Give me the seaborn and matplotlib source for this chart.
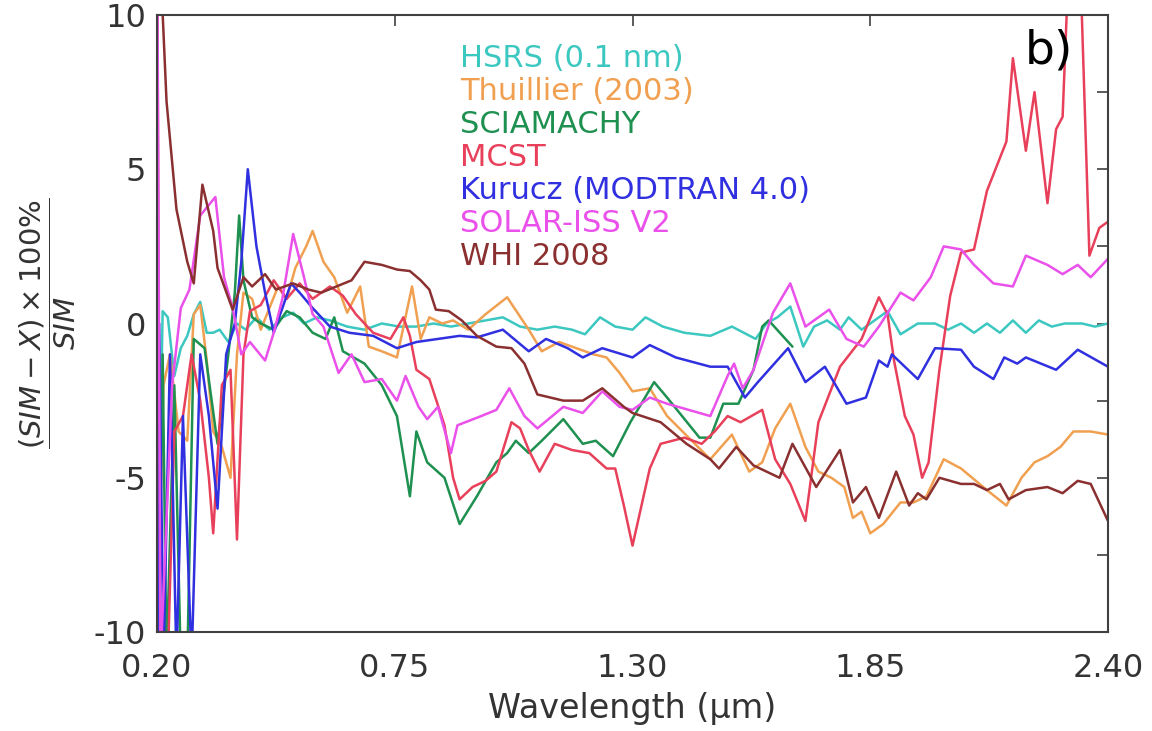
import pandas as pd
import matplotlib
matplotlib.use("Agg")
import matplotlib.pyplot as plt
from matplotlib.ticker import MultipleLocator
import seaborn as sns

# (wavelength in um, relative difference in %)
hsrs = [(0.200, -12), (0.205, -6), (0.213, 0.4), (0.225, 0.2), (0.240, -1.7), (0.255, -0.8),
        (0.270, -0.4), (0.285, 0.3), (0.300, 0.7), (0.315, -0.3), (0.330, -0.3), (0.345, -0.2),
        (0.365, -0.6), (0.385, 0.0), (0.405, -0.2), (0.43, 0.2), (0.46, -0.2), (0.49, 0.2),
        (0.515, 0.35), (0.54, 0.0), (0.57, 0.2), (0.60, 0.1), (0.64, -0.1), (0.68, -0.2),
        (0.72, 0.0), (0.76, -0.1), (0.80, -0.1), (0.84, 0.0), (0.88, -0.1), (0.92, 0.0),
        (0.96, 0.1), (1.00, 0.2), (1.04, -0.1), (1.08, -0.2), (1.12, -0.1), (1.16, -0.2),
        (1.19, -0.35), (1.225, 0.2), (1.26, -0.1), (1.30, -0.2), (1.33, 0.2), (1.37, -0.1),
        (1.42, -0.3), (1.48, -0.4), (1.53, -0.1), (1.585, -0.5), (1.61, 0.0), (1.635, 0.2),
        (1.665, 0.55), (1.695, -0.75), (1.72, -0.1), (1.75, 0.1), (1.78, -0.2), (1.80, 0.2),
        (1.83, -0.2), (1.86, 0.1), (1.89, 0.4), (1.92, -0.35), (1.96, 0.0), (2.00, 0.0),
        (2.03, -0.2), (2.06, 0.0), (2.09, -0.3), (2.12, 0.0), (2.15, -0.3), (2.18, 0.1),
        (2.21, -0.3), (2.24, 0.1), (2.27, -0.1), (2.30, 0.0), (2.34, 0.0), (2.37, -0.1),
        (2.40, 0.0)]

thuillier = [(0.200, -14), (0.205, -8), (0.215, -2), (0.23, -1), (0.25, -3.5), (0.27, -3.8),
             (0.285, 0.3), (0.30, 0.6), (0.315, -1.2), (0.33, -3.5), (0.35, -4), (0.37, -5),
             (0.385, -1), (0.40, 1.0), (0.42, 0.8), (0.44, -0.2), (0.46, 0.5), (0.48, 1.2),
             (0.50, 0.8), (0.52, 1.8), (0.545, 2.5), (0.56, 3.0), (0.585, 2.0), (0.61, 1.5),
             (0.64, 0.35), (0.67, 1.2), (0.69, -0.75), (0.72, -0.9), (0.755, -1.1), (0.79, 1.2),
             (0.81, -0.5), (0.83, 0.2), (0.86, 0.0), (0.885, 0.1), (0.92, -0.2), (0.96, 0.3),
             (1.01, 0.85), (1.06, -0.2), (1.09, -0.9), (1.13, -0.6), (1.17, -0.8), (1.21, -1.0),
             (1.24, -1.1), (1.27, -1.6), (1.30, -2.2), (1.34, -2.1), (1.38, -3.0), (1.43, -3.7),
             (1.48, -4.4), (1.53, -3.6), (1.57, -4.8), (1.60, -4.5), (1.63, -3.4), (1.665, -2.6),
             (1.70, -4.0), (1.73, -4.8), (1.76, -5.0), (1.79, -5.3), (1.81, -6.3), (1.83, -6.1),
             (1.85, -6.8), (1.88, -6.5), (1.92, -5.8), (1.95, -5.8), (1.98, -5.6), (2.02, -4.4),
             (2.06, -4.7), (2.12, -5.4), (2.165, -5.9), (2.20, -5.0), (2.23, -4.5), (2.26, -4.3),
             (2.29, -4.0), (2.32, -3.5), (2.36, -3.5), (2.40, -3.6)]

sciamachy = [(0.200, -14), (0.213, -1), (0.222, -11), (0.240, -2), (0.255, -11), (0.270, -11),
             (0.285, -0.5), (0.31, -0.8), (0.34, -3.9), (0.365, -1.0), (0.38, 1.0), (0.39, 3.5),
             (0.40, 1.4), (0.42, 0.2), (0.44, 0.0), (0.47, -0.2), (0.50, 0.4), (0.53, 0.2),
             (0.56, -0.3), (0.59, -0.5), (0.61, 0.2), (0.63, -0.9), (0.68, -1.3), (0.72, -2.0),
             (0.755, -3.0), (0.785, -5.6), (0.80, -3.5), (0.825, -4.5), (0.865, -5.0), (0.90, -6.5),
             (0.94, -5.6), (0.985, -4.5), (1.01, -4.2), (1.03, -3.8), (1.06, -4.2), (1.09, -3.8),
             (1.14, -3.1), (1.185, -3.9), (1.215, -3.8), (1.255, -4.3), (1.295, -3.2), (1.35, -1.9),
             (1.38, -2.4), (1.455, -3.7), (1.48, -3.7), (1.51, -2.6), (1.545, -2.6), (1.58, -1.5),
             (1.60, -0.1), (1.615, 0.1), (1.67, -0.75)]

mcst = [(0.200, 14), (0.207, -12), (0.225, -11), (0.24, -3.5), (0.26, -3.0), (0.28, -1.0),
        (0.30, -2.5), (0.32, -5.0), (0.33, -6.8), (0.35, -2.0), (0.37, -1.5), (0.385, -7.0),
        (0.40, -1.0), (0.415, 0.4), (0.44, 0.6), (0.47, 1.4), (0.50, 0.8), (0.53, 1.3),
        (0.56, 0.8), (0.60, 1.2), (0.63, 0.9), (0.66, 0.3), (0.70, -0.3), (0.74, -0.5),
        (0.77, 0.2), (0.785, -0.4), (0.80, -1.5), (0.83, -1.8), (0.865, -3.3), (0.885, -5.0),
        (0.90, -5.7), (0.93, -5.3), (0.96, -5.1), (0.985, -4.8), (1.02, -3.2), (1.04, -3.4),
        (1.06, -4.1), (1.085, -4.8), (1.12, -3.9), (1.16, -4.1), (1.20, -4.2), (1.24, -4.7),
        (1.26, -4.7), (1.28, -5.9), (1.30, -7.2), (1.34, -4.7), (1.365, -3.9), (1.42, -3.7),
        (1.46, -3.9), (1.49, -3.5), (1.52, -3.0), (1.55, -3.2), (1.60, -2.8), (1.63, -4.4),
        (1.665, -5.2), (1.70, -6.4), (1.73, -3.2), (1.78, -1.4), (1.83, -0.5), (1.87, 0.85),
        (1.89, 0.3), (1.905, -1.2), (1.93, -3.0), (1.95, -3.6), (1.97, -5.0), (1.985, -4.5),
        (2.01, -1.5), (2.035, 0.9), (2.06, 2.3), (2.09, 2.4), (2.12, 4.3), (2.165, 5.9),
        (2.18, 8.6), (2.21, 5.6), (2.23, 7.5), (2.26, 3.9), (2.28, 6.3), (2.295, 6.7),
        (2.31, 12), (2.335, 12), (2.357, 2.2), (2.38, 3.1), (2.40, 3.3)]

kurucz = [(0.200, -14), (0.205, 0.0), (0.215, -11), (0.23, -1.0), (0.245, -11), (0.26, -3.0),
          (0.28, -11), (0.30, -1.0), (0.32, -3.0), (0.34, -6.0), (0.36, -1.0), (0.38, 0.0),
          (0.395, 2.0), (0.41, 5.0), (0.43, 2.5), (0.45, 1.0), (0.47, -0.3), (0.49, 0.5),
          (0.51, 1.3), (0.53, 1.0), (0.56, 0.5), (0.60, -0.1), (0.645, -0.3), (0.70, -0.4),
          (0.755, -0.8), (0.80, -0.6), (0.85, -0.5), (0.90, -0.4), (0.94, -0.45), (1.00, -0.2),
          (1.06, -0.9), (1.10, -0.5), (1.15, -0.8), (1.185, -1.1), (1.23, -0.8), (1.30, -1.1),
          (1.34, -0.7), (1.40, -1.1), (1.48, -1.4), (1.52, -1.4), (1.56, -2.4), (1.59, -1.9),
          (1.66, -0.8), (1.70, -1.9), (1.745, -1.4), (1.795, -2.6), (1.84, -2.4), (1.87, -1.2),
          (1.89, -1.4), (1.90, -1.0), (1.96, -1.8), (2.00, -0.8), (2.06, -0.85), (2.09, -1.4),
          (2.135, -1.8), (2.16, -1.1), (2.19, -1.3), (2.21, -1.1), (2.28, -1.5), (2.33, -0.85),
          (2.40, -1.4)]

solar_iss = [(0.200, 14), (0.208, -11), (0.235, -2.0), (0.255, 0.5), (0.275, 1.1), (0.30, 3.5),
             (0.335, 4.1), (0.355, 1.5), (0.375, 0.5), (0.395, -1.0), (0.415, -0.6), (0.45, -1.2),
             (0.47, -0.3), (0.49, 0.8), (0.515, 2.9), (0.54, 1.5), (0.56, 0.3), (0.585, -0.1),
             (0.62, -1.6), (0.65, -1.0), (0.68, -1.9), (0.72, -1.8), (0.755, -2.5), (0.775, -1.7),
             (0.805, -2.7), (0.825, -3.1), (0.85, -2.7), (0.88, -4.2), (0.895, -3.3), (0.95, -3.0),
             (0.985, -2.8), (1.015, -2.1), (1.05, -3.0), (1.08, -3.4), (1.14, -2.7), (1.185, -2.9),
             (1.23, -2.2), (1.27, -2.7), (1.30, -2.8), (1.34, -2.4), (1.38, -2.6), (1.455, -2.9),
             (1.48, -3.0), (1.52, -1.7), (1.535, -1.3), (1.555, -2.1), (1.58, -1.5), (1.625, 0.35),
             (1.665, 1.3), (1.70, -0.1), (1.755, 0.45), (1.795, -0.5), (1.835, -0.75), (1.87, -0.1),
             (1.92, 1.0), (1.95, 0.75), (1.99, 1.5), (2.02, 2.5), (2.06, 2.4), (2.09, 1.9),
             (2.135, 1.3), (2.18, 1.2), (2.21, 2.2), (2.26, 1.9), (2.295, 1.6), (2.33, 1.9),
             (2.36, 1.5), (2.40, 2.1)]

whi = [(0.200, 14), (0.21, 11), (0.222, 7.2), (0.245, 3.7), (0.27, 2.0), (0.285, 1.3),
       (0.305, 4.5), (0.33, 3.0), (0.34, 1.8), (0.375, 0.45), (0.40, 1.5), (0.42, 1.2),
       (0.45, 1.6), (0.475, 1.1), (0.515, 1.3), (0.55, 1.1), (0.58, 1.0), (0.615, 1.2),
       (0.65, 1.4), (0.68, 2.0), (0.72, 1.9), (0.755, 1.75), (0.785, 1.7), (0.81, 1.4),
       (0.83, 1.1), (0.845, 0.45), (0.875, 0.4), (0.905, 0.1), (0.94, -0.4), (0.985, -0.75),
       (1.02, -0.8), (1.05, -1.3), (1.08, -2.3), (1.14, -2.5), (1.185, -2.5), (1.23, -2.1),
       (1.28, -2.7), (1.30, -2.9), (1.365, -3.2), (1.425, -3.9), (1.48, -4.4), (1.50, -4.7),
       (1.54, -4.0), (1.58, -4.6), (1.64, -5.0), (1.67, -3.9), (1.725, -5.3), (1.78, -4.1),
       (1.81, -5.8), (1.84, -5.3), (1.87, -6.3), (1.91, -4.8), (1.94, -5.9), (1.96, -5.5),
       (1.98, -5.7), (2.01, -5.0), (2.06, -5.2), (2.09, -5.2), (2.12, -5.4), (2.15, -5.2),
       (2.17, -5.7), (2.21, -5.4), (2.26, -5.3), (2.295, -5.5), (2.33, -5.1), (2.36, -5.2),
       (2.38, -5.8), (2.40, -6.4)]

series_names = ["HSRS (0.1 nm)", "Thuillier (2003)", "SCIAMACHY", "MCST",
                "Kurucz (MODTRAN 4.0)", "SOLAR-ISS V2", "WHI 2008"]
series_data = [hsrs, thuillier, sciamachy, mcst, kurucz, solar_iss, whi]
colors = ["#3cc8c0", "#f0a050", "#1e9050", "#e8405a", "#3030e0", "#ea50ea", "#8b3030"]
x_ticks = [0.20, 0.75, 1.30, 1.85, 2.40]

rows = []
for name, pts in zip(series_names, series_data):
    for wl, val in pts:
        rows.append({"Source": name, "Wavelength": wl, "Diff": val})
df = pd.DataFrame(rows)

sns.set_style("white")
plt.rcParams["font.family"] = ["DejaVu Sans"]
plt.rcParams["mathtext.fontset"] = "dejavusans"
plt.rcParams["axes.unicode_minus"] = False

fig = plt.figure(figsize=(11.52, 7.31), dpi=100)
ax = fig.add_axes([0.1363, 0.1354, 0.8255, 0.8441])

sns.lineplot(data=df, x="Wavelength", y="Diff", hue="Source", hue_order=series_names,
             palette=colors, sort=False, estimator=None, units="Source",
             linewidth=1.8, ax=ax)

ax.set_xlim(0.20, 2.40)
ax.set_ylim(-10, 10)
ax.set_xticks(x_ticks)
ax.set_xticklabels([f"{t:.2f}" for t in x_ticks])
ax.set_yticks([-10, -5, 0, 5, 10])
ax.yaxis.set_minor_locator(MultipleLocator(2.5))
ax.tick_params(axis="both", which="both", direction="in", top=True, right=True,
               length=8, width=1.2, color="#404040")
ax.tick_params(axis="x", labelsize=23, pad=15, labelcolor="#333333")
ax.tick_params(axis="y", labelsize=23, pad=8, labelcolor="#333333")
for sp in ax.spines.values():
    sp.set_color("#404040")
    sp.set_linewidth(1.5)

ax.set_xlabel("Wavelength (\u00b5m)", fontsize=24, color="#333333", labelpad=6)
ax.set_ylabel(r"$\dfrac{(SIM - X)\times100\%}{SIM}$", fontsize=21, color="#333333")
ax.yaxis.set_label_coords(-0.083, 0.5)

leg = ax.legend(loc="upper left", bbox_to_anchor=(0.3186, 0.953), frameon=False,
                handlelength=0, handletextpad=0, labelcolor="linecolor",
                fontsize=22, labelspacing=0.13, borderpad=0, borderaxespad=0)
for h in leg.legend_handles:
    h.set_visible(False)

ax.text(0.912, 0.978, "b)", transform=ax.transAxes, fontsize=34, ha="left", va="top",
        color="black")

plt.savefig("out.png", dpi=100)
